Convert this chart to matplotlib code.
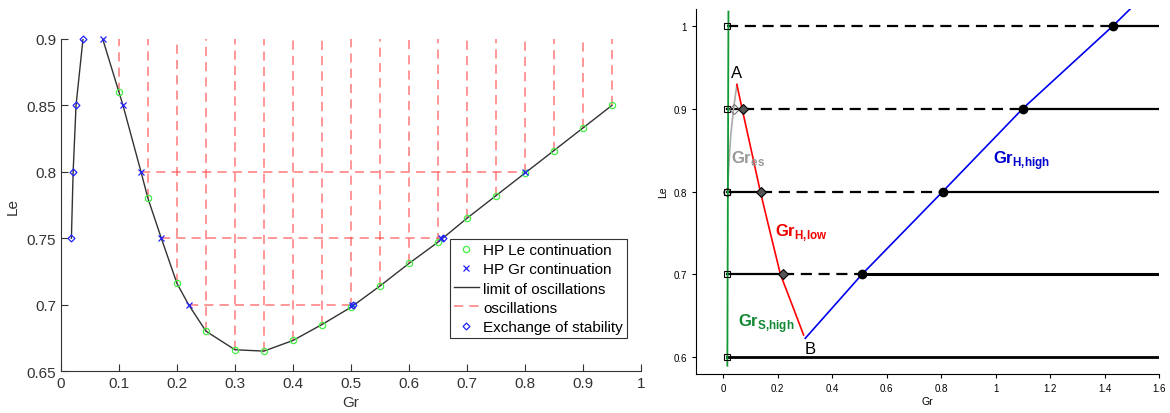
import numpy as np
import matplotlib.pyplot as plt

plt.rcParams['font.family'] = ['Liberation Sans', 'DejaVu Sans']
plt.rcParams['mathtext.fontset'] = 'custom'
plt.rcParams['mathtext.rm'] = 'Liberation Sans'
plt.rcParams['mathtext.bf'] = 'Liberation Sans:bold'

# ---- left panel data ----
le_cont_gr = [0.1, 0.15, 0.2, 0.25, 0.3, 0.35, 0.4, 0.45, 0.5, 0.55,
              0.6, 0.65, 0.7, 0.75, 0.8, 0.85, 0.9, 0.95]
le_cont_le = [0.86, 0.78, 0.716, 0.68, 0.666, 0.665, 0.673, 0.685, 0.698, 0.714,
              0.731, 0.747, 0.765, 0.782, 0.799, 0.816, 0.833, 0.85]
gr_cont_gr = [0.072, 0.107, 0.138, 0.173, 0.22, 0.502, 0.655, 0.8]
gr_cont_le = [0.9, 0.85, 0.8, 0.75, 0.7, 0.7, 0.75, 0.8]
es_gr = [0.018, 0.021, 0.026, 0.038, 0.504, 0.658]
es_le = [0.75, 0.8, 0.85, 0.9, 0.7, 0.75]
limit_gr = [0.018, 0.021, 0.026, 0.038, 0.05, 0.072, 0.1, 0.107, 0.138, 0.15, 0.173,
            0.2, 0.22, 0.25, 0.3, 0.35, 0.4, 0.45, 0.5, 0.55, 0.6, 0.65, 0.7,
            0.75, 0.8, 0.85, 0.9, 0.95]
limit_le = [0.75, 0.8, 0.85, 0.9, 0.93, 0.9, 0.86, 0.85, 0.8, 0.78, 0.75,
            0.716, 0.7, 0.68, 0.666, 0.665, 0.673, 0.685, 0.698, 0.714, 0.731, 0.747, 0.765,
            0.782, 0.799, 0.816, 0.833, 0.85]
osc_levels = [0.8, 0.75, 0.7]
osc_start = [0.138, 0.173, 0.22]
osc_end = [0.8, 0.655, 0.5]

# ---- right panel data ----
levels = [1.0, 0.9, 0.8, 0.7, 0.6]
start_gr = 0.015
low_gr = [None, 0.072, 0.14, 0.22, None]
high_gr = [1.432, 1.1, 0.806, 0.509, None]
s_high_gr = [0.019, 0.015]
s_high_le = [1.017, 0.59]
es_curve_gr = [0.016, 0.02, 0.028, 0.038, 0.05]
es_curve_le = [0.8, 0.83, 0.87, 0.9, 0.929]
h_low_gr = [0.05, 0.069, 0.1, 0.136, 0.172, 0.21, 0.258, 0.295]
h_low_le = [0.929, 0.9, 0.854, 0.8, 0.751, 0.7, 0.659, 0.627]
h_high_gr = [0.301, 0.509, 0.806, 1.1, 1.432, 1.494]
h_high_le = [0.623, 0.7, 0.8, 0.9, 1.0, 1.02]

fig = plt.figure(figsize=(11.7, 4.14), dpi=100)

# ================= left =================
ax = fig.add_axes([0.0521, 0.1014, 0.4957, 0.802])
osc_col = (1.0, 0.3, 0.3, 0.75)
for g, l in zip(le_cont_gr, le_cont_le):
    ax.plot([g, g], [l, 0.9], '--', color=osc_col, lw=1.1, dashes=(6, 4))
for lev, a, b in zip(osc_levels, osc_start, osc_end):
    ax.plot([a, b], [lev, lev], '--', color=osc_col, lw=1.1, dashes=(6, 4))
ax.plot(limit_gr, limit_le, '-', color='#333333', lw=1.0)
h1, = ax.plot(le_cont_gr, le_cont_le, 'o', mfc='none', mec='#44ee44', ms=4.5, mew=0.9,
              clip_on=False)
h2, = ax.plot(gr_cont_gr, gr_cont_le, 'x', color='#2222ff', ms=4, mew=0.9, clip_on=False)
h5, = ax.plot(es_gr, es_le, 'D', mfc='none', mec='#2222ff', ms=3.5, mew=0.9, clip_on=False)
h3, = ax.plot([], [], '-', color='#333333', lw=1.0)
h4, = ax.plot([], [], '--', color=osc_col, lw=1.1, dashes=(6, 4))
ax.set_xlim(0, 1)
ax.set_ylim(0.65, 0.9)
ax.set_xticks(np.arange(0, 1.01, 0.1))
ax.set_xticklabels(['0', '0.1', '0.2', '0.3', '0.4', '0.5', '0.6', '0.7', '0.8', '0.9', '1'])
ax.set_yticks([0.65, 0.7, 0.75, 0.8, 0.85, 0.9])
ax.set_yticklabels(['0.65', '0.7', '0.75', '0.8', '0.85', '0.9'])
ax.spines['top'].set_visible(False)
ax.spines['right'].set_visible(False)
for s in ['left', 'bottom']:
    ax.spines[s].set_color('#333333')
ax.tick_params(direction='in', labelsize=11, colors='#333333', length=5)
ax.set_xlabel('Gr', fontsize=11, color='#333333', labelpad=4)
ax.set_ylabel('Le', fontsize=11, color='#333333', labelpad=5)
leg = ax.legend([h1, h2, h3, h4, h5],
                ['HP Le continuation', 'HP Gr continuation', 'limit of oscillations',
                 'oscillations', 'Exchange of stability'],
                loc='lower right', bbox_to_anchor=(0.99, 0.075), fontsize=11,
                handlelength=1.6, handletextpad=0.3, labelspacing=0.34,
                borderpad=0.3, fancybox=False, framealpha=1)
leg.get_frame().set_edgecolor('#333333')
leg.get_frame().set_linewidth(0.8)

# ================= right =================
bx = fig.add_axes([0.5949, 0.0942, 0.3957, 0.8816])
for i, lev in enumerate(levels):
    lo = low_gr[i] if low_gr[i] is not None else start_gr
    hi = high_gr[i]
    if low_gr[i] is not None:
        bx.plot([start_gr, lo], [lev, lev], '-', color='k', lw=1.6)
    if hi is None:
        bx.plot([start_gr, 1.6], [lev, lev], '-', color='k', lw=2.0)
    else:
        bx.plot([lo, hi], [lev, lev], '--', color='k', lw=1.6, dashes=(5, 3))
        bx.plot([hi, 1.6], [lev, lev], '-', color='k', lw=2.2 if lev == 0.7 else 1.6)
bx.plot(es_curve_gr, es_curve_le, '-', color='#aaaaaa', lw=1.2)
bx.plot(h_low_gr, h_low_le, '-', color='#ff0000', lw=1.2)
bx.plot(h_high_gr, h_high_le, '-', color='#0000ee', lw=1.2)
bx.plot(s_high_gr, s_high_le, '-', color='#119933', lw=1.3)
bx.plot([start_gr] * len(levels), levels, 's', mfc='none', mec='k', ms=5, mew=0.8)
bx.plot([start_gr], [0.8], 'o', mfc='none', mec='k', ms=5, mew=0.8)
bx.plot([0.038], [0.9], 'D', mfc='none', mec='#777777', ms=5, mew=0.8)
bx.plot([g for g in low_gr if g is not None], [0.9, 0.8, 0.7], 'D',
        mfc='#555555', mec='k', ms=5, mew=0.8)
bx.plot([g for g in high_gr if g is not None], [1.0, 0.9, 0.8, 0.7], 'o',
        color='k', ms=6)
bx.text(0.027, 0.938, 'A', fontsize=12)
bx.text(0.3, 0.605, 'B', fontsize=12)
bx.text(0.03, 0.836, r'$\mathbf{Gr}_{\mathbf{es}}$', fontsize=12, color='#999999')
bx.text(0.19, 0.748, r'$\mathbf{Gr}_{\mathbf{H{,}low}}$', fontsize=12, color='#ee0000')
bx.text(0.055, 0.638, r'$\mathbf{Gr}_{\mathbf{S{,}high}}$', fontsize=12, color='#118833')
bx.text(0.99, 0.834, r'$\mathbf{Gr}_{\mathbf{H{,}high}}$', fontsize=12, color='#0000cc')
bx.set_xlim(-0.1, 1.6)
bx.set_ylim(0.58, 1.02)
bx.set_xticks(np.arange(0, 1.61, 0.2))
bx.set_xticklabels(['0', '0.2', '0.4', '0.6', '0.8', '1', '1.2', '1.4', '1.6'])
bx.set_yticks([0.6, 0.7, 0.8, 0.9, 1.0])
bx.set_yticklabels(['0.6', '0.7', '0.8', '0.9', '1'])
bx.spines['top'].set_visible(False)
bx.spines['right'].set_visible(False)
bx.tick_params(direction='out', labelsize=7, length=3)
bx.set_xlabel('Gr', fontsize=7.5, labelpad=2)
bx.set_ylabel('Le', fontsize=7.5, labelpad=4)

fig.savefig('out.png', dpi=100)
